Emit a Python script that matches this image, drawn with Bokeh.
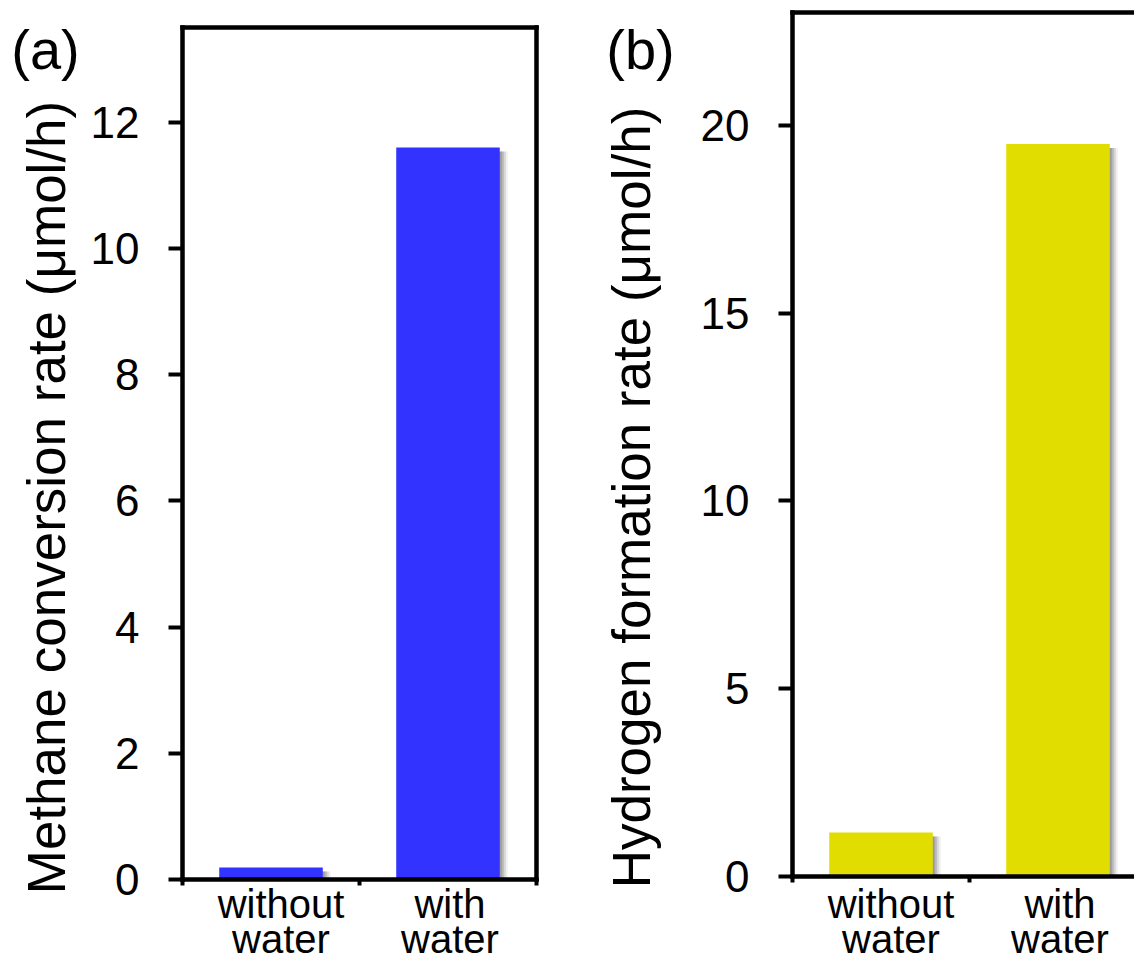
import math
from bokeh.plotting import figure
from bokeh.models import Range1d, LinearAxis, FixedTicker, Label
from bokeh.layouts import row
from bokeh.embed import file_html
from bokeh.resources import INLINE

# ---- data ----
categories = ["without water", "with water"]
methane_rate = [0.19, 11.6]
hydrogen_rate = [1.17, 19.5]
methane_ticks = [0, 2, 4, 6, 8, 10, 12]
hydrogen_ticks = [0, 5, 10, 15, 20]
methane_ymax = 13.5
hydrogen_ymax = 23
panel_tags = ["(a)", "(b)"]
y_titles = ["Methane conversion rate (\u03bcmol/h)", "Hydrogen formation rate (\u03bcmol/h)"]
bar_colors = ["#3333ff", "#e1dd00"]

# ---- style / layout ----
FONT = "Liberation Sans"
CAT_PX = 177.0      # pixel width of one category slot
BAR_W = 0.585
LW = 4.5
H = 960
LABEL_DX = [10, 2]          # px nudge of category labels
LABEL_BASE = [903, 938]     # px from top (line 1, line 2)


def bare_axis(**kw):
    ax = LinearAxis(**kw)
    ax.axis_line_width = LW
    ax.axis_line_cap = "square"
    ax.major_tick_out = 0
    ax.major_tick_in = 0
    ax.minor_tick_out = 0
    ax.minor_tick_in = 0
    ax.major_label_text_font_size = "0px"
    return ax


def make_panel(values, ticks, ymax, color, title, tag, width, frame_left,
               frame_top, frame_bottom, right_border, title_x, tag_x):
    n = len(categories)
    k = (frame_bottom - frame_top) / ymax          # px per y unit
    x_rng = Range1d(-frame_left / CAT_PX, (width - frame_left) / CAT_PX)
    y_rng = Range1d(-(H - frame_bottom) / k, ymax + frame_top / k)
    x_right = min(n, (width - frame_left) / CAT_PX)

    p = figure(width=width, height=H, x_range=x_rng, y_range=y_rng,
               output_backend="svg", toolbar_location=None,
               x_axis_type=None, y_axis_type=None, min_border=0)
    p.outline_line_color = None
    p.background_fill_color = "white"

    xs = [i + 0.5 for i in range(n)]
    px_x = 1.0 / CAT_PX
    px_y = 1.0 / k
    # soft drop shadow
    for off, alpha in [(8, 0.10), (6, 0.18), (4, 0.28), (2, 0.36)]:
        p.vbar(x=[x + off * px_x for x in xs], top=[v - 4 * px_y for v in values],
               bottom=0, width=BAR_W, fill_color="#6a6a6a", fill_alpha=alpha,
               line_color=None)
    p.vbar(x=xs, top=values, bottom=0, width=BAR_W, fill_color=color,
           line_color=None)

    yax = LinearAxis(ticker=FixedTicker(ticks=ticks, minor_ticks=[]),
                     fixed_location=0, bounds=(0, ymax))
    yax.axis_line_width = LW
    yax.axis_line_cap = "square"
    yax.major_tick_line_width = 4
    yax.major_tick_out = 14
    yax.major_tick_in = 0
    yax.minor_tick_out = 0
    yax.minor_tick_in = 0
    yax.major_label_standoff = 29
    yax.major_label_text_font = FONT
    yax.major_label_text_font_size = "44px"
    yax.major_label_text_color = "black"
    p.add_layout(yax, "left")

    xax = bare_axis(ticker=FixedTicker(ticks=[], minor_ticks=list(range(n + 1))),
                    fixed_location=0, bounds=(0, x_right))
    xax.minor_tick_line_width = 4
    xax.minor_tick_out = 6
    p.add_layout(xax, "below")

    top_ax = bare_axis(ticker=FixedTicker(ticks=[], minor_ticks=[]),
                       fixed_location=ymax, bounds=(0, x_right))
    p.add_layout(top_ax, "above")
    if right_border:
        r_ax = bare_axis(ticker=FixedTicker(ticks=[], minor_ticks=[]),
                         fixed_location=n, bounds=(0, ymax))
        p.add_layout(r_ax, "right")

    # category labels (two lines each)
    for i, cat in enumerate(categories):
        words = cat.split(" ")
        lines = [" ".join(words[:-1]), words[-1]]
        for txt, base in zip(lines, LABEL_BASE):
            p.add_layout(Label(x=i + 0.5, x_units="data", x_offset=LABEL_DX[i],
                               y=H - base, y_units="screen",
                               text=txt, text_align="center",
                               text_baseline="alphabetic", text_font=FONT,
                               text_font_size="40px", text_color="black"))

    # y-axis title
    p.add_layout(Label(x=title_x, y=H - 497, x_units="screen", y_units="screen",
                       text=title, angle=math.pi / 2, text_align="center",
                       text_baseline="middle", text_font=FONT,
                       text_font_size="53px", text_color="black"))
    # panel tag
    p.add_layout(Label(x=tag_x, y=H - 49, x_units="screen", y_units="screen",
                       text=tag, text_align="center", text_baseline="middle",
                       text_font=FONT, text_font_size="56px", text_color="black"))
    return p


pa = make_panel(methane_rate, methane_ticks, methane_ymax, bar_colors[0],
                y_titles[0], panel_tags[0], width=600, frame_left=182,
                frame_top=27, frame_bottom=879, right_border=True,
                title_x=46, tag_x=45)
pb = make_panel(hydrogen_rate, hydrogen_ticks, hydrogen_ymax, bar_colors[1],
                y_titles[1], panel_tags[1], width=534, frame_left=192,
                frame_top=12, frame_bottom=876, right_border=False,
                title_x=31, tag_x=40)

layout = row(pa, pb)
open("out.html", "w").write(file_html(layout, INLINE))
